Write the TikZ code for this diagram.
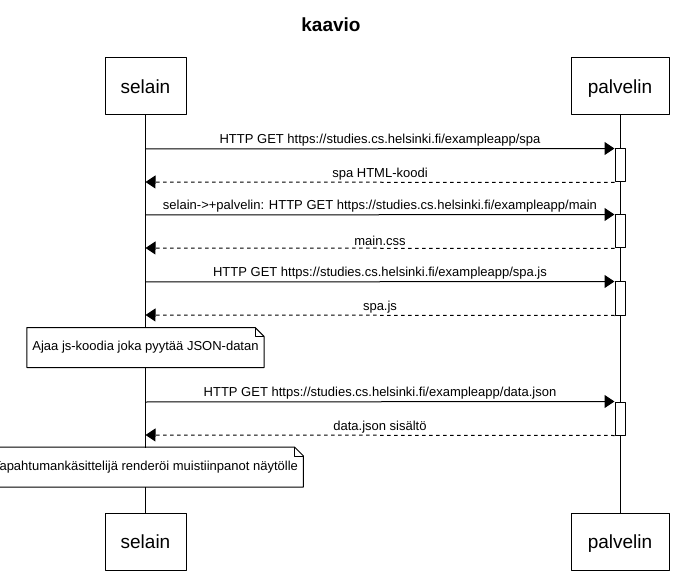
\documentclass[tikz,border=0pt]{standalone}
\usepackage{fontspec}
\setmainfont{Liberation Sans}
\usetikzlibrary{arrows.meta,calc}
\begin{document}
\begin{tikzpicture}[x=1pt, y=-1pt, line width=1pt, line join=round, >={Triangle[length=10pt,width=13pt]},
  actor/.style={draw, fill=white, minimum height=57pt, inner sep=0pt, text depth=0pt, font=\fontsize{19}{22}\selectfont},
  note/.style={fill=white, minimum height=39pt, inner xsep=5pt, font=\fontsize{13}{16}\selectfont},
  act/.style={draw, fill=white, minimum width=10pt, minimum height=33pt, inner sep=0pt},
  msg/.style={above, inner sep=2pt, font=\fontsize{13}{16}\selectfont},
  reply/.style={dash pattern=on 3.5pt off 3.5pt}]
\useasboundingbox (0,0) rectangle (677,577);
\node[font=\bfseries\fontsize{19}{22}\selectfont] (otsikko) at (331,25) {kaavio};
% osallistujat
\node[actor, minimum width=81pt] (sel) at (145.5,86.5) {selain};
\node[actor, minimum width=98pt] (pal) at (620,86.5) {palvelin};
\node[actor, minimum width=81pt] (selAla) at (145.5,541.5) {selain};
\node[actor, minimum width=98pt] (palAla) at (620,541.5) {palvelin};
\draw (sel) -- (selAla);
\draw (pal) -- (palAla);
% aktivoinnit
\node[act] (a1) at (620,165.5) {};
\node[act] (a2) at (620,231.5) {};
\node[act] (a3) at (620,298.5) {};
\node[act] (a4) at (620,418.5) {};
\coordinate (s1) at (145.5,149);
\coordinate (r1) at (145.5,182);
\coordinate (s2) at (145.5,215);
\coordinate (r2) at (145.5,248);
\coordinate (s3) at (145.5,282);
\coordinate (r3) at (145.5,315);
\coordinate (s4) at (145.5,402);
\coordinate (r4) at (145.5,435);
% viestit
\draw[->] (s1) -- (a1.north west) node[msg, midway] {HTTP GET https://studies.cs.helsinki.fi/exampleapp/spa};
\draw[->, reply] (a1.south west) -- (r1) node[msg, midway] {spa HTML-koodi};
\draw[->] (s2) -- (a2.north west) node[msg, midway] {selain->+palvelin: HTTP GET https://studies.cs.helsinki.fi/exampleapp/main};
\draw[->, reply] (a2.south west) -- (r2) node[msg, midway] {main.css};
\draw[->] (s3) -- (a3.north west) node[msg, midway] {HTTP GET https://studies.cs.helsinki.fi/exampleapp/spa.js};
\draw[->, reply] (a3.south west) -- (r3) node[msg, midway] {spa.js};
\draw[->] (s4) -- (a4.north west) node[msg, midway] {HTTP GET https://studies.cs.helsinki.fi/exampleapp/data.json};
\draw[->, reply] (a4.south west) -- (r4) node[msg, midway] {data.json sisältö};
% muistiinpanot
\node[note] (n1) at (145.5,347.5) {Ajaa js-koodia joka pyytää JSON-datan};
\node[note] (n2) at (145.5,467) {Tapahtumankäsittelijä renderöi muistiinpanot näytölle};
\foreach \n in {n1,n2} {
  \draw (\n.north west) -- ($(\n.north east)+(-9pt,0pt)$) -- ($(\n.north east)+(0pt,-9pt)$)
    -- (\n.south east) -- (\n.south west) -- cycle;
  \draw[line width=0.8pt] ($(\n.north east)+(-9pt,0pt)$) -- ($(\n.north east)+(-9pt,-9pt)$) -- ($(\n.north east)+(0pt,-9pt)$);
}
\end{tikzpicture}
\end{document}
